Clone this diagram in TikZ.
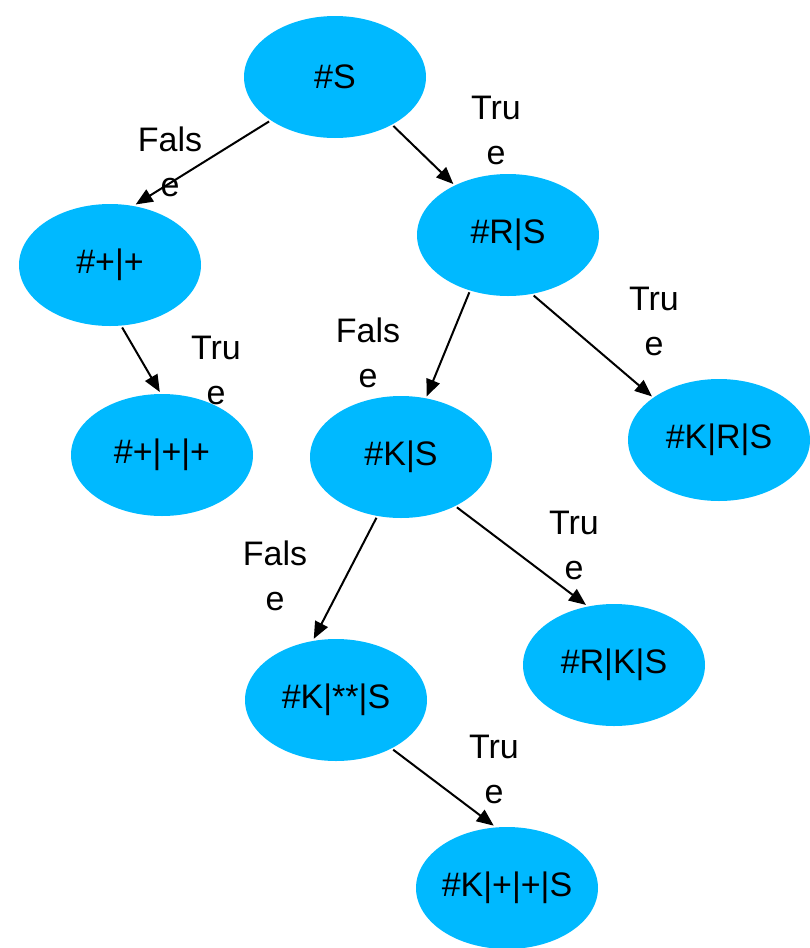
\documentclass[tikz,border=0pt]{standalone}
\usepackage{fontspec}
\setmainfont{Liberation Sans}
\usetikzlibrary{shapes.geometric,arrows.meta}
\definecolor{nodeblue}{RGB}{0,185,255}
\tikzset{
  ell/.style={ellipse, fill=nodeblue, draw=none, minimum width=182pt, minimum height=122pt, inner sep=0pt, outer sep=2pt},
  txt/.style={font=\fontsize{34}{45}\selectfont, inner sep=0pt, text=black},
  lab/.style={font=\fontsize{34}{45}\selectfont, align=center, inner sep=0pt, text=black},
  arr/.style={line width=2pt, -{Triangle[length=17pt,width=14pt]}}
}
\begin{document}
\begin{tikzpicture}[x=1pt,y=-1pt]
\useasboundingbox (0,0) rectangle (810,948);
% nodes
\node[ell] (S) at (335,77) {};
\node[ell] (P) at (110,265) {};
\node[ell] (PP) at (162,455) {};
\node[ell] (R) at (508,235) {};
\node[ell] (K) at (401,457) {};
\node[ell] (KRS) at (719,440) {};
\node[ell] (RKS) at (614,665) {};
\node[ell] (KSS) at (336,700) {};
\node[ell] (KPPS) at (507,888) {};
% texts
\node[txt] (tS) at (S) {\#S};
\node[txt] (tP) at (P) {\#+|+};
\node[txt] (tPP) at (PP) {\#+|+|+};
\node[txt] (tR) at (R) {\#R|S};
\node[txt] (tK) at (K) {\#K|S};
\node[txt] (tKRS) at (KRS) {\#K|R|S};
\node[txt] (tRKS) at (RKS) {\#R|K|S};
\node[txt] (tKSS) at (KSS) {\#K|**|S};
\node[txt] (tKPPS) at (KPPS) {\#K|+|+|S};
% edges
\draw[arr] (S.214) -- (P.67);
\draw[arr] (S.320) -- (R.137);
\draw[arr] (P.281) -- (PP.92);
\draw[arr] (R.236) -- (K.67);
\draw[arr] (R.293) -- (KRS.147);
\draw[arr] (K.248) -- (KSS.110);
\draw[arr] (K.318) -- (RKS.115);
\draw[arr] (KSS.319) -- (KPPS.102);
% labels
\node[lab] (l1) at (170,162) {Fals\\e};
\node[lab] (l2) at (496,130) {Tru\\e};
\node[lab] (l3) at (216,370) {Tru\\e};
\node[lab] (l4) at (368,353) {Fals\\e};
\node[lab] (l5) at (654,321) {Tru\\e};
\node[lab] (l6) at (275,576) {Fals\\e};
\node[lab] (l7) at (574,545) {Tru\\e};
\node[lab] (l8) at (494,769) {Tru\\e};
\end{tikzpicture}
\end{document}
